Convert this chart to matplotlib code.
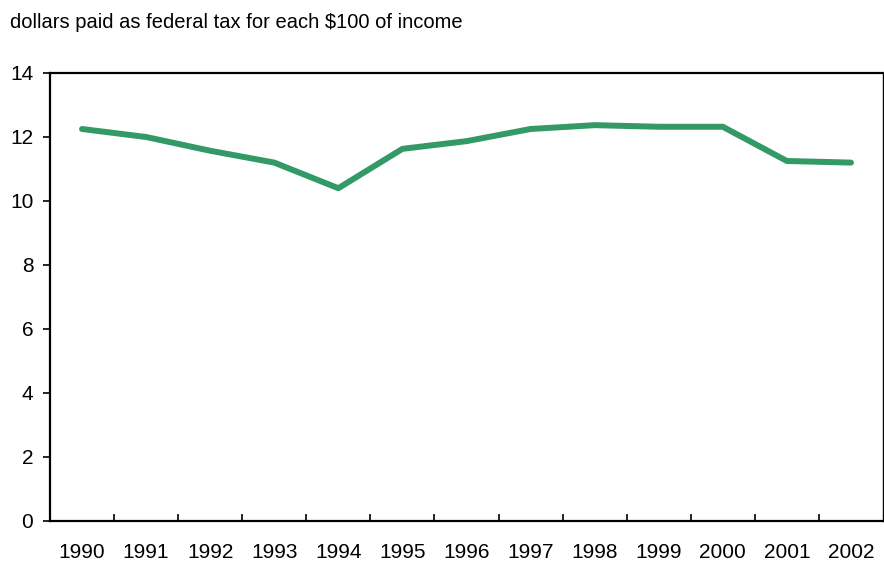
import numpy as np
import matplotlib.pyplot as plt

years = ["1990", "1991", "1992", "1993", "1994", "1995", "1996",
         "1997", "1998", "1999", "2000", "2001", "2002"]
tax = [12.25, 12.0, 11.57, 11.2, 10.4, 11.63, 11.87,
       12.25, 12.37, 12.32, 12.32, 11.25, 11.2]

plt.rcParams['font.family'] = ['Liberation Sans', 'DejaVu Sans']

fig = plt.figure(figsize=(8.84, 5.61), dpi=100)
ax = fig.add_axes([50/884, 1-521/561, 833/884, 448/561])

x = np.arange(len(years))
ax.plot(x, tax, color="#339966", linewidth=4.3, solid_capstyle="round", solid_joinstyle="round")

ax.set_xlim(-0.5, len(years)-0.5)
ax.set_ylim(0, 14)
ax.set_yticks(np.arange(0, 15, 2))
ax.set_xticks(x)
ax.set_xticklabels(years)
ax.set_xticks(np.arange(0.5, len(years)-1, 1), minor=True)
ax.tick_params(axis='x', which='major', length=0, pad=16, labelsize=15)
ax.tick_params(axis='x', which='minor', direction='in', length=5, width=1.2)
ax.tick_params(axis='y', direction='out', length=5, width=1.2, labelsize=15, pad=7)

for s in ['left', 'bottom', 'top']:
    ax.spines[s].set_linewidth(1.6)
ax.spines['right'].set_linewidth(1.0)

fig.text(10/884, 1-22/561, "dollars paid as federal tax for each $100 of income",
         fontsize=14.5, ha='left', va='center')

fig.savefig("out.png", dpi=100)
